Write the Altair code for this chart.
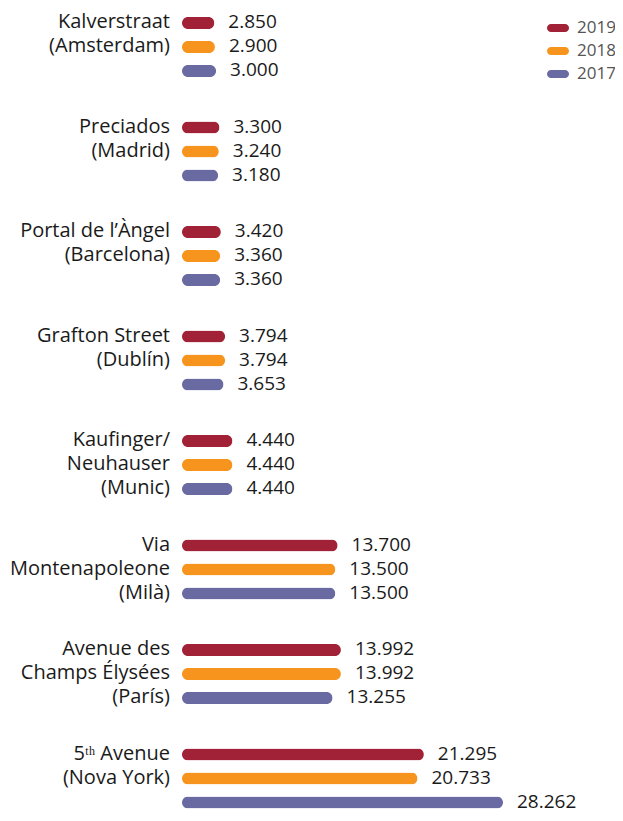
import altair as alt
import pandas as pd

# ---- data ----
streets = [
    ["Kalverstraat", "(Amsterdam)"],
    ["Preciados", "(Madrid)"],
    ["Portal de l\u2019\u00c0ngel", "(Barcelona)"],
    ["Grafton Street", "(Dubl\u00edn)"],
    ["Kaufinger/", "Neuhauser", "(Munic)"],
    ["Via", "Montenapoleone", "(Mil\u00e0)"],
    ["Avenue des", "Champs \u00c9lys\u00e9es", "(Par\u00eds)"],
    ["5\u1d57\u02b0 Avenue", "(Nova York)"],
]
years = ["2019", "2018", "2017"]
v2019 = [2850, 3300, 3420, 3794, 4440, 13700, 13992, 21295]
v2018 = [2900, 3240, 3360, 3794, 4440, 13500, 13992, 20733]
v2017 = [3000, 3180, 3360, 3653, 4440, 13500, 13255, 28262]
labels2019 = ["2.850", "3.300", "3.420", "3.794", "4.440", "13.700", "13.992", "21.295"]
labels2018 = ["2.900", "3.240", "3.360", "3.794", "4.440", "13.500", "13.992", "20.733"]
labels2017 = ["3.000", "3.180", "3.360", "3.653", "4.440", "13.500", "13.255", "28.262"]
colors = ["#A12237", "#F7941D", "#6A6AA3"]

GROUP_STEP = 104.5
ROW_STEP = 24

bars = []
for g in range(len(streets)):
    for r, (yr, vals, labs) in enumerate(zip(years, [v2019, v2018, v2017],
                                              [labels2019, labels2018, labels2017])):
        bars.append({"group": g, "year": yr, "value": vals[g], "label": labs[g],
                     "pos": g * GROUP_STEP + r * ROW_STEP})
bars_df = pd.DataFrame(bars)

lines = []
for g, ls in enumerate(streets):
    for r, t in enumerate(ls):
        lines.append({"text": t, "pos": g * GROUP_STEP + r * ROW_STEP})
lines_df = pd.DataFrame(lines)

W, H = 607, 805
FONT = "Open Sans"

xscale = alt.Scale(domain=[0, 28262], range=[174, 495], nice=False, zero=False, padding=0)
yscale = alt.Scale(domain=[-15, H - 15], reverse=True, nice=False, zero=False, padding=0)

PILL = ("M-0.64,-0.36 L0.64,-0.36 A0.36,0.36 0 0 1 0.64,0.36 "
        "L-0.64,0.36 A0.36,0.36 0 0 1 -0.64,-0.36 Z")

bar_layer = alt.Chart(bars_df).mark_bar(
    orient="horizontal", height=12, cornerRadius=6
).encode(
    x=alt.X("value:Q", scale=xscale, axis=None),
    y=alt.Y("pos:Q", scale=yscale, axis=None),
    color=alt.Color(
        "year:N",
        scale=alt.Scale(domain=years, range=colors),
        legend=alt.Legend(
            title=None, orient="none", legendX=539, legendY=9,
            symbolType=PILL,
            symbolSize=484, symbolStrokeWidth=0, symbolOpacity=1,
            labelFont=FONT, labelFontSize=17, labelColor="#555555",
            labelOffset=8, rowPadding=4, padding=0,
        ),
    ),
)

value_layer = alt.Chart(bars_df).mark_text(
    align="left", baseline="middle", dx=14, dy=-1, font=FONT, fontSize=19, color="#1a1a1a"
).encode(
    x=alt.X("value:Q", scale=xscale, axis=None),
    y=alt.Y("pos:Q", scale=yscale, axis=None),
    text="label:N",
)

cat_layer = alt.Chart(lines_df).mark_text(
    align="right", baseline="middle", dx=-12, dy=-1, font=FONT, fontSize=20, color="#1a1a1a"
).encode(
    x=alt.datum(0, scale=xscale),
    y=alt.Y("pos:Q", scale=yscale, axis=None),
    text="text:N",
)

chart = alt.layer(bar_layer, value_layer, cat_layer).properties(
    width=W, height=H, padding=0, autosize=alt.AutoSizeParams(type="none")
).configure_view(stroke=None)

chart.save("out.html", embed_options={"renderer": "svg", "actions": False})
